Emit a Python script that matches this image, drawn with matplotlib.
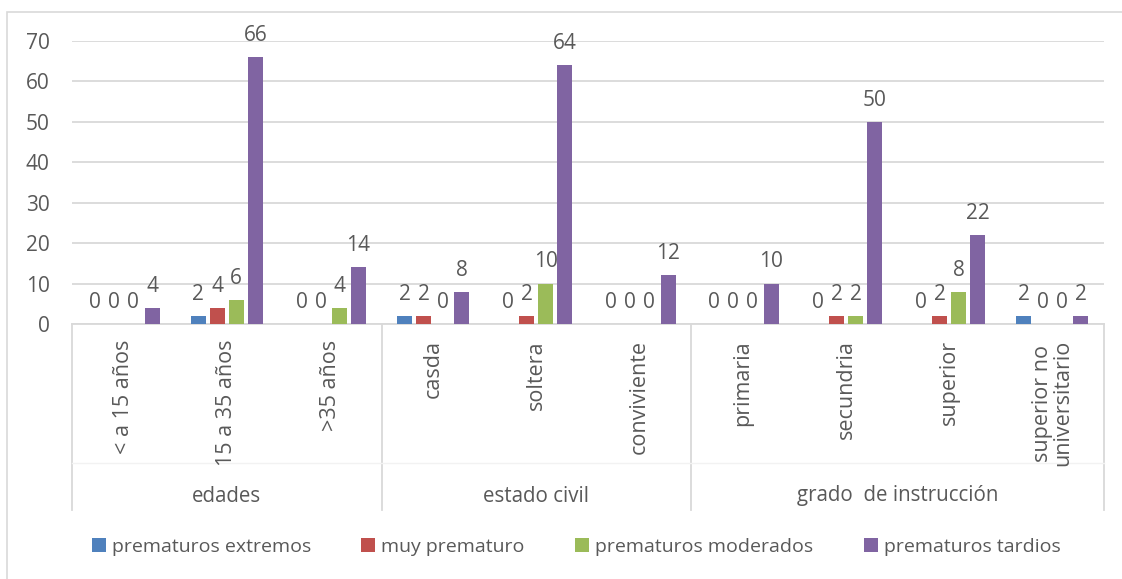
import numpy as np
import matplotlib
matplotlib.use('Agg')
import matplotlib.pyplot as plt
from matplotlib.patches import Rectangle
from matplotlib.lines import Line2D

plt.rcParams['font.family'] = ['Open Sans', 'DejaVu Sans']

categories = ['< a 15 años', '15 a 35 años', '>35 años',
              'casda', 'soltera', 'conviviente',
              'primaria', 'secundria', 'superior', 'superior no\nuniversitario']
groups = ['edades', 'estado civil', 'grado  de instrucción']
group_sizes = [3, 3, 4]

series_names = ['prematuros extremos', 'muy prematuro',
                'prematuros moderados', 'prematuros tardios']
extremos = [0, 2, 0, 2, 0, 0, 0, 0, 0, 2]
muy_prem = [0, 4, 0, 2, 2, 0, 0, 2, 2, 0]
moderados = [0, 6, 4, 0, 10, 0, 0, 2, 8, 0]
tardios = [4, 66, 14, 8, 64, 12, 10, 50, 22, 2]

colors = ['#4F81BD', '#C0504D', '#9BBB59', '#8064A2']
TXT = '#595959'
GRID = '#D9D9D9'
FS = 14
FS_NUM = 15
FS_CAT = 15.5

W, H = 1122, 579
fig = plt.figure(figsize=(W / 100, H / 100), dpi=100)

# outer chart border (only top and left fall inside the image)
fig.patches.append(Rectangle((7 / W, -0.1), 1.2, (H - 12) / H + 0.1,
                             transform=fig.transFigure, fill=False,
                             edgecolor=GRID, linewidth=1.2))

ax = fig.add_axes([72 / W, (H - 324) / H, (1104 - 72) / W, (324 - 41) / H])

x = np.arange(len(categories))
pitch = 0.184
width = 0.145
all_series = [extremos, muy_prem, moderados, tardios]
for i, (vals, name, c) in enumerate(zip(all_series, series_names, colors)):
    pos = x + (i - 1.5) * pitch
    ax.bar(pos, vals, width, color=c, label=name, zorder=3)
    for xp, v in zip(pos, vals):
        ax.annotate(str(v), (xp, v), xytext=(0, 8), textcoords='offset points',
                    ha='center', va='bottom', fontsize=FS_NUM, color=TXT,
                    annotation_clip=False)

ax.set_xlim(-0.5, len(categories) - 0.5)
ax.set_ylim(0, 70)
ax.set_yticks(range(0, 71, 10))
ax.yaxis.grid(True, color=GRID, linewidth=1.3, zorder=0)
ax.tick_params(axis='y', length=0, labelsize=FS_NUM, labelcolor=TXT, pad=16)
ax.set_xticks([])
for s in ['top', 'right', 'left']:
    ax.spines[s].set_visible(False)
ax.spines['bottom'].set_color(GRID)
ax.spines['bottom'].set_linewidth(1.3)

# multi-level category axis
trans = ax.get_xaxis_transform()
px = 1 / (324 - 41)
for xi, lab in zip(x, categories):
    ax.text(xi, -16 * px, lab, rotation=90, ha='center', va='top',
            fontsize=FS_CAT, color=TXT, transform=trans, linespacing=0.95)

edges = np.concatenate([[0], np.cumsum(group_sizes)]) - 0.5
for e in edges:
    ax.add_line(Line2D([e, e], [0, -186 * px], transform=trans, color=GRID,
                       linewidth=1.3, clip_on=False))
ax.add_line(Line2D([edges[0], edges[-1]], [-139 * px, -139 * px], transform=trans,
                   color='#F2F2F2', linewidth=1, clip_on=False))
for g, a, b in zip(groups, edges[:-1], edges[1:]):
    ax.text((a + b) / 2, -172 * px, g, ha='center', va='center',
            fontsize=14.8, color=TXT, transform=trans)

handles, labels = ax.get_legend_handles_labels()
leg = fig.legend(handles, labels, loc='center', ncol=4,
                 bbox_to_anchor=(576 / W, (H - 547) / H), frameon=False,
                 fontsize=FS, handlelength=0.72, handleheight=0.72,
                 handletextpad=0.3, columnspacing=2.6)
for t in leg.get_texts():
    t.set_color(TXT)

fig.savefig('out.png', dpi=100)
